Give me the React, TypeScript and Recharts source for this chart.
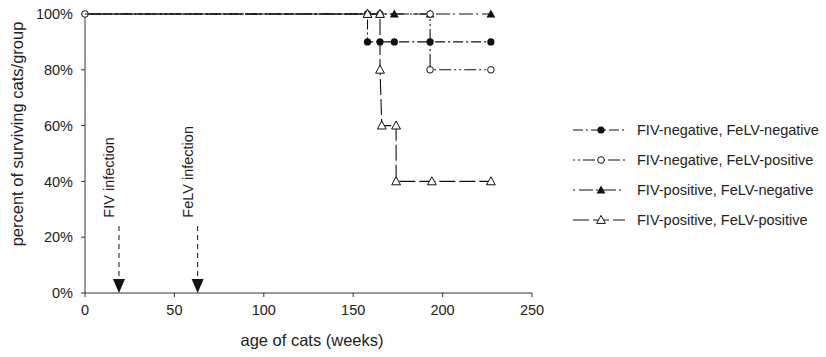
import React from "react";
import {
  ScatterChart,
  Scatter,
  XAxis,
  YAxis,
  Legend,
  ReferenceLine,
  ReferenceDot,
} from "recharts";

const FONT = '"Liberation Sans", Arial, Helvetica, sans-serif';
const INK = "#111";

// survival curves (weeks of age, percent surviving)
const negNegWeeks = [0, 158, 158, 165, 173, 193, 227];
const negNegPct = [100, 100, 90, 90, 90, 90, 90];

const negPosWeeks = [0, 158, 165, 193, 193, 227];
const negPosPct = [100, 100, 100, 100, 80, 80];

const posNegWeeks = [0, 158, 165, 173, 193, 227];
const posNegPct = [100, 100, 100, 100, 100, 100];

const posPosWeeks = [0, 158, 165, 165, 166, 174, 174, 194, 227];
const posPosPct = [100, 100, 100, 80, 60, 60, 40, 40, 40];

// infection arrows
const infectionLabels = ["FIV infection", "FeLV infection"];
const infectionWeeks = [19, 63];

const xTicks = [0, 50, 100, 150, 200, 250];
const yTicks = [0, 20, 40, 60, 80, 100];

const toData = (weeks: number[], pct: number[]) =>
  weeks.map((w, i) => ({ week: w, pct: pct[i] }));

type Kind = "dot" | "ring" | "tri" | "openTri";

const series: { name: string; kind: Kind; dash: string; data: any[] }[] = [
  { name: "FIV-negative, FeLV-negative", kind: "dot", dash: "10 3 2 3", data: toData(negNegWeeks, negNegPct) },
  { name: "FIV-positive, FeLV-negative", kind: "tri", dash: "2 4 14 3", data: toData(posNegWeeks, posNegPct) },
  { name: "FIV-negative, FeLV-positive", kind: "ring", dash: "2 3 2 3 12 3", data: toData(negPosWeeks, negPosPct) },
  { name: "FIV-positive, FeLV-positive", kind: "openTri", dash: "16 4", data: toData(posPosWeeks, posPosPct) },
];

// legend order as in the figure
const legendOrder = [0, 2, 1, 3];

const marker = (kind: Kind, cx: number, cy: number, key?: string) => {
  if (kind === "dot") return <circle key={key} cx={cx} cy={cy} r={3.6} fill={INK} />;
  if (kind === "ring")
    return <circle key={key} cx={cx} cy={cy} r={3.3} fill="#fff" stroke={INK} strokeWidth={1} />;
  const d = `M${cx},${cy - 4.6} L${cx + 4.4},${cy + 3.4} L${cx - 4.4},${cy + 3.4} Z`;
  if (kind === "tri") return <path key={key} d={d} fill={INK} />;
  return <path key={key} d={d} fill="#fff" stroke={INK} strokeWidth={1} />;
};

const makeShape = (kind: Kind) => (props: any) => {
  const { cx, cy, payload } = props;
  // only one small open marker at the origin point
  if (payload && payload.week === 0 && kind !== "ring") return <g />;
  return marker(kind, cx, cy);
};

const renderLegend = () => (
  <svg width={258} height={130} style={{ fontFamily: FONT, display: "block" }}>
    {legendOrder.map((idx, row) => {
      const s = series[idx];
      const y = 10 + row * 30;
      return (
        <g key={s.name}>
          <line x1={8} x2={60} y1={y} y2={y} stroke={INK} strokeWidth={1} strokeDasharray={s.dash} />
          {marker(s.kind, 36, y)}
          <text x={72} y={y + 5} fontSize={14.5} fill="#222">
            {s.name}
          </text>
        </g>
      );
    })}
  </svg>
);

const arrowHead = (props: any) => {
  const { cx, cy } = props;
  return (
    <path d={`M${cx},${cy} L${cx + 6},${cy - 14} L${cx - 6},${cy - 14} Z`} fill={INK} />
  );
};

const arrowText = (text: string) => (props: any) => {
  const { cx, cy } = props;
  const x = cx - 5;
  return (
    <text
      x={x}
      y={cy}
      transform={`rotate(-90 ${x} ${cy})`}
      fontSize={14.5}
      fontFamily={FONT}
      fill="#222"
    >
      {text}
    </text>
  );
};

const yTitle = () => (
  <text
    x={23}
    y={134}
    transform="rotate(-90 23 134)"
    textAnchor="middle"
    fontSize={16.5}
    fontFamily={FONT}
    fill="#222"
  >
    percent of surviving cats/group
  </text>
);

const xTitle = () => (
  <text x={312} y={346} textAnchor="middle" fontSize={16.5} fontFamily={FONT} fill="#222">
    age of cats (weeks)
  </text>
);

export default function App() {
  return (
    <div style={{ position: "absolute", left: 0, top: 0, fontFamily: FONT }}>
      <ScatterChart
        width={826}
        height={357}
        margin={{ top: 14, right: 36, bottom: 34, left: 25 }}
      >
        <XAxis
          type="number"
          dataKey="week"
          domain={[0, 250]}
          ticks={xTicks}
          height={30}
          tickSize={4}
          tickMargin={8}
          stroke="#333"
          tick={{ fill: "#222", fontSize: 14.5, fontFamily: FONT }}
          label={xTitle}
        />
        <YAxis
          type="number"
          dataKey="pct"
          domain={[0, 100]}
          ticks={yTicks}
          width={60}
          tickSize={4}
          tickMargin={8}
          stroke="#333"
          tickFormatter={(v: number) => `${v}%`}
          tick={{ fill: "#222", fontSize: 14.5, fontFamily: FONT }}
          label={yTitle}
        />
        {infectionWeeks.map((w, i) => (
          <ReferenceLine
            key={`l${i}`}
            segment={[
              { x: w, y: 24 },
              { x: w, y: 4 },
            ]}
            stroke={INK}
            strokeWidth={1}
            strokeDasharray="5 4"
          />
        ))}
        {infectionWeeks.map((w, i) => (
          <ReferenceDot key={`h${i}`} x={w} y={0} r={5} shape={arrowHead} />
        ))}
        {infectionWeeks.map((w, i) => (
          <ReferenceDot key={`t${i}`} x={w} y={27} r={5} shape={arrowText(infectionLabels[i])} />
        ))}
        {series.map((s) => (
          <Scatter
            key={s.name}
            name={s.name}
            data={s.data}
            fill={INK}
            line={{ stroke: INK, strokeWidth: 1.1, strokeDasharray: s.dash }}
            lineType="joint"
            shape={makeShape(s.kind)}
            isAnimationActive={false}
          />
        ))}
        <Legend
          layout="vertical"
          align="right"
          verticalAlign="middle"
          content={renderLegend}
          wrapperStyle={{ position: "absolute", left: 565, top: 120, width: 258 }}
        />
      </ScatterChart>
    </div>
  );
}
